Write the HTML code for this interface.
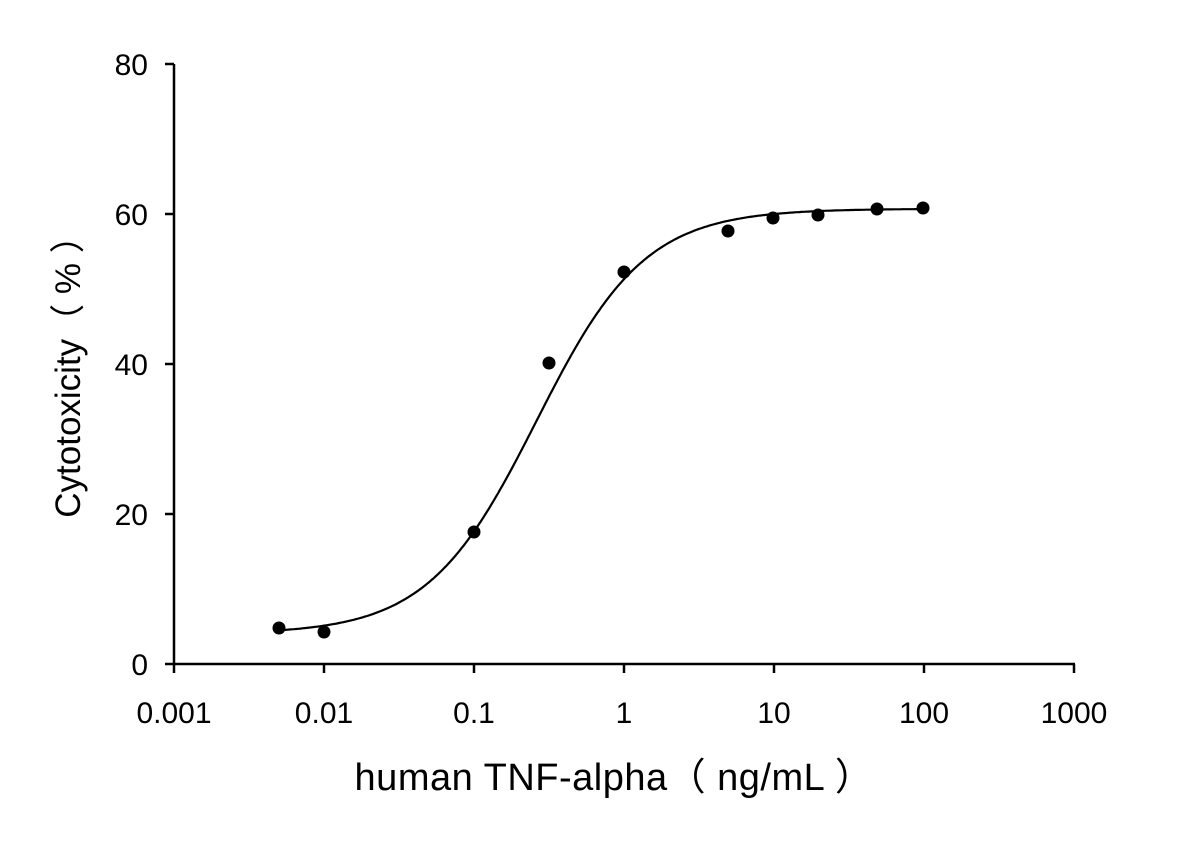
<!DOCTYPE html>
<html><head><meta charset="utf-8"><style>
html,body{margin:0;padding:0;background:#fff;}
svg{display:block;}
text{font-family:"Liberation Sans",sans-serif;fill:#000;}
</style></head><body>
<svg id="s" width="1178" height="841" viewBox="0 0 1178 841">
<g stroke="#000" stroke-width="2.5" fill="none">
<line x1="174" y1="64" x2="174" y2="664"/>
<line x1="173" y1="664" x2="1075" y2="664"/>
<line x1="165" y1="64" x2="174" y2="64"/>
<line x1="165" y1="214" x2="174" y2="214"/>
<line x1="165" y1="364" x2="174" y2="364"/>
<line x1="165" y1="514" x2="174" y2="514"/>
<line x1="165" y1="664" x2="174" y2="664"/>
<line x1="174" y1="664" x2="174" y2="673"/>
<line x1="324" y1="664" x2="324" y2="673"/>
<line x1="474" y1="664" x2="474" y2="673"/>
<line x1="624" y1="664" x2="624" y2="673"/>
<line x1="774" y1="664" x2="774" y2="673"/>
<line x1="924" y1="664" x2="924" y2="673"/>
<line x1="1074" y1="664" x2="1074" y2="673"/>
<path id="curve" stroke-width="2.2"/>
</g>
<g font-size="30" text-anchor="end">
<text x="148" y="75">80</text>
<text x="148" y="225">60</text>
<text x="148" y="375">40</text>
<text x="148" y="525">20</text>
<text x="148" y="675">0</text>
</g>
<g font-size="30" text-anchor="middle">
<text x="174" y="723">0.001</text>
<text x="324" y="723">0.01</text>
<text x="474" y="723">0.1</text>
<text x="624" y="723">1</text>
<text x="774" y="723">10</text>
<text x="924" y="723">100</text>
<text x="1074" y="723">1000</text>
</g>
<text x="614" y="790" font-size="38" text-anchor="middle" letter-spacing="0.5">human TNF-alpha（ ng/mL ）</text>
<text transform="translate(80,368) rotate(-90)" font-size="35" text-anchor="middle">Cytotoxicity（ % ）</text>
<g fill="#000">
<circle cx="279" cy="628" r="6.5"/>
<circle cx="324" cy="632" r="6.5"/>
<circle cx="474" cy="532" r="6.5"/>
<circle cx="549" cy="363" r="6.5"/>
<circle cx="624" cy="272" r="6.5"/>
<circle cx="728" cy="231" r="6.5"/>
<circle cx="773" cy="218" r="6.5"/>
<circle cx="818" cy="215" r="6.5"/>
<circle cx="877" cy="209" r="6.5"/>
<circle cx="923" cy="208" r="6.5"/>
</g>
</svg>
<script>
var d="";
for(var i=0;i<=300;i++){
 var lx=Math.log10(0.005)+(Math.log10(100)-Math.log10(0.005))*i/300;
 var f=1/(1+Math.pow(10,1.2*(Math.log10(0.26)-lx)));
 var y=4+56.7*f;
 var px=174+(lx+3)*150, py=664-y*7.5;
 d+=(i?"L":"M")+px.toFixed(1)+","+py.toFixed(1);
}
document.getElementById("curve").setAttribute("d",d);
</script>
</body></html>
